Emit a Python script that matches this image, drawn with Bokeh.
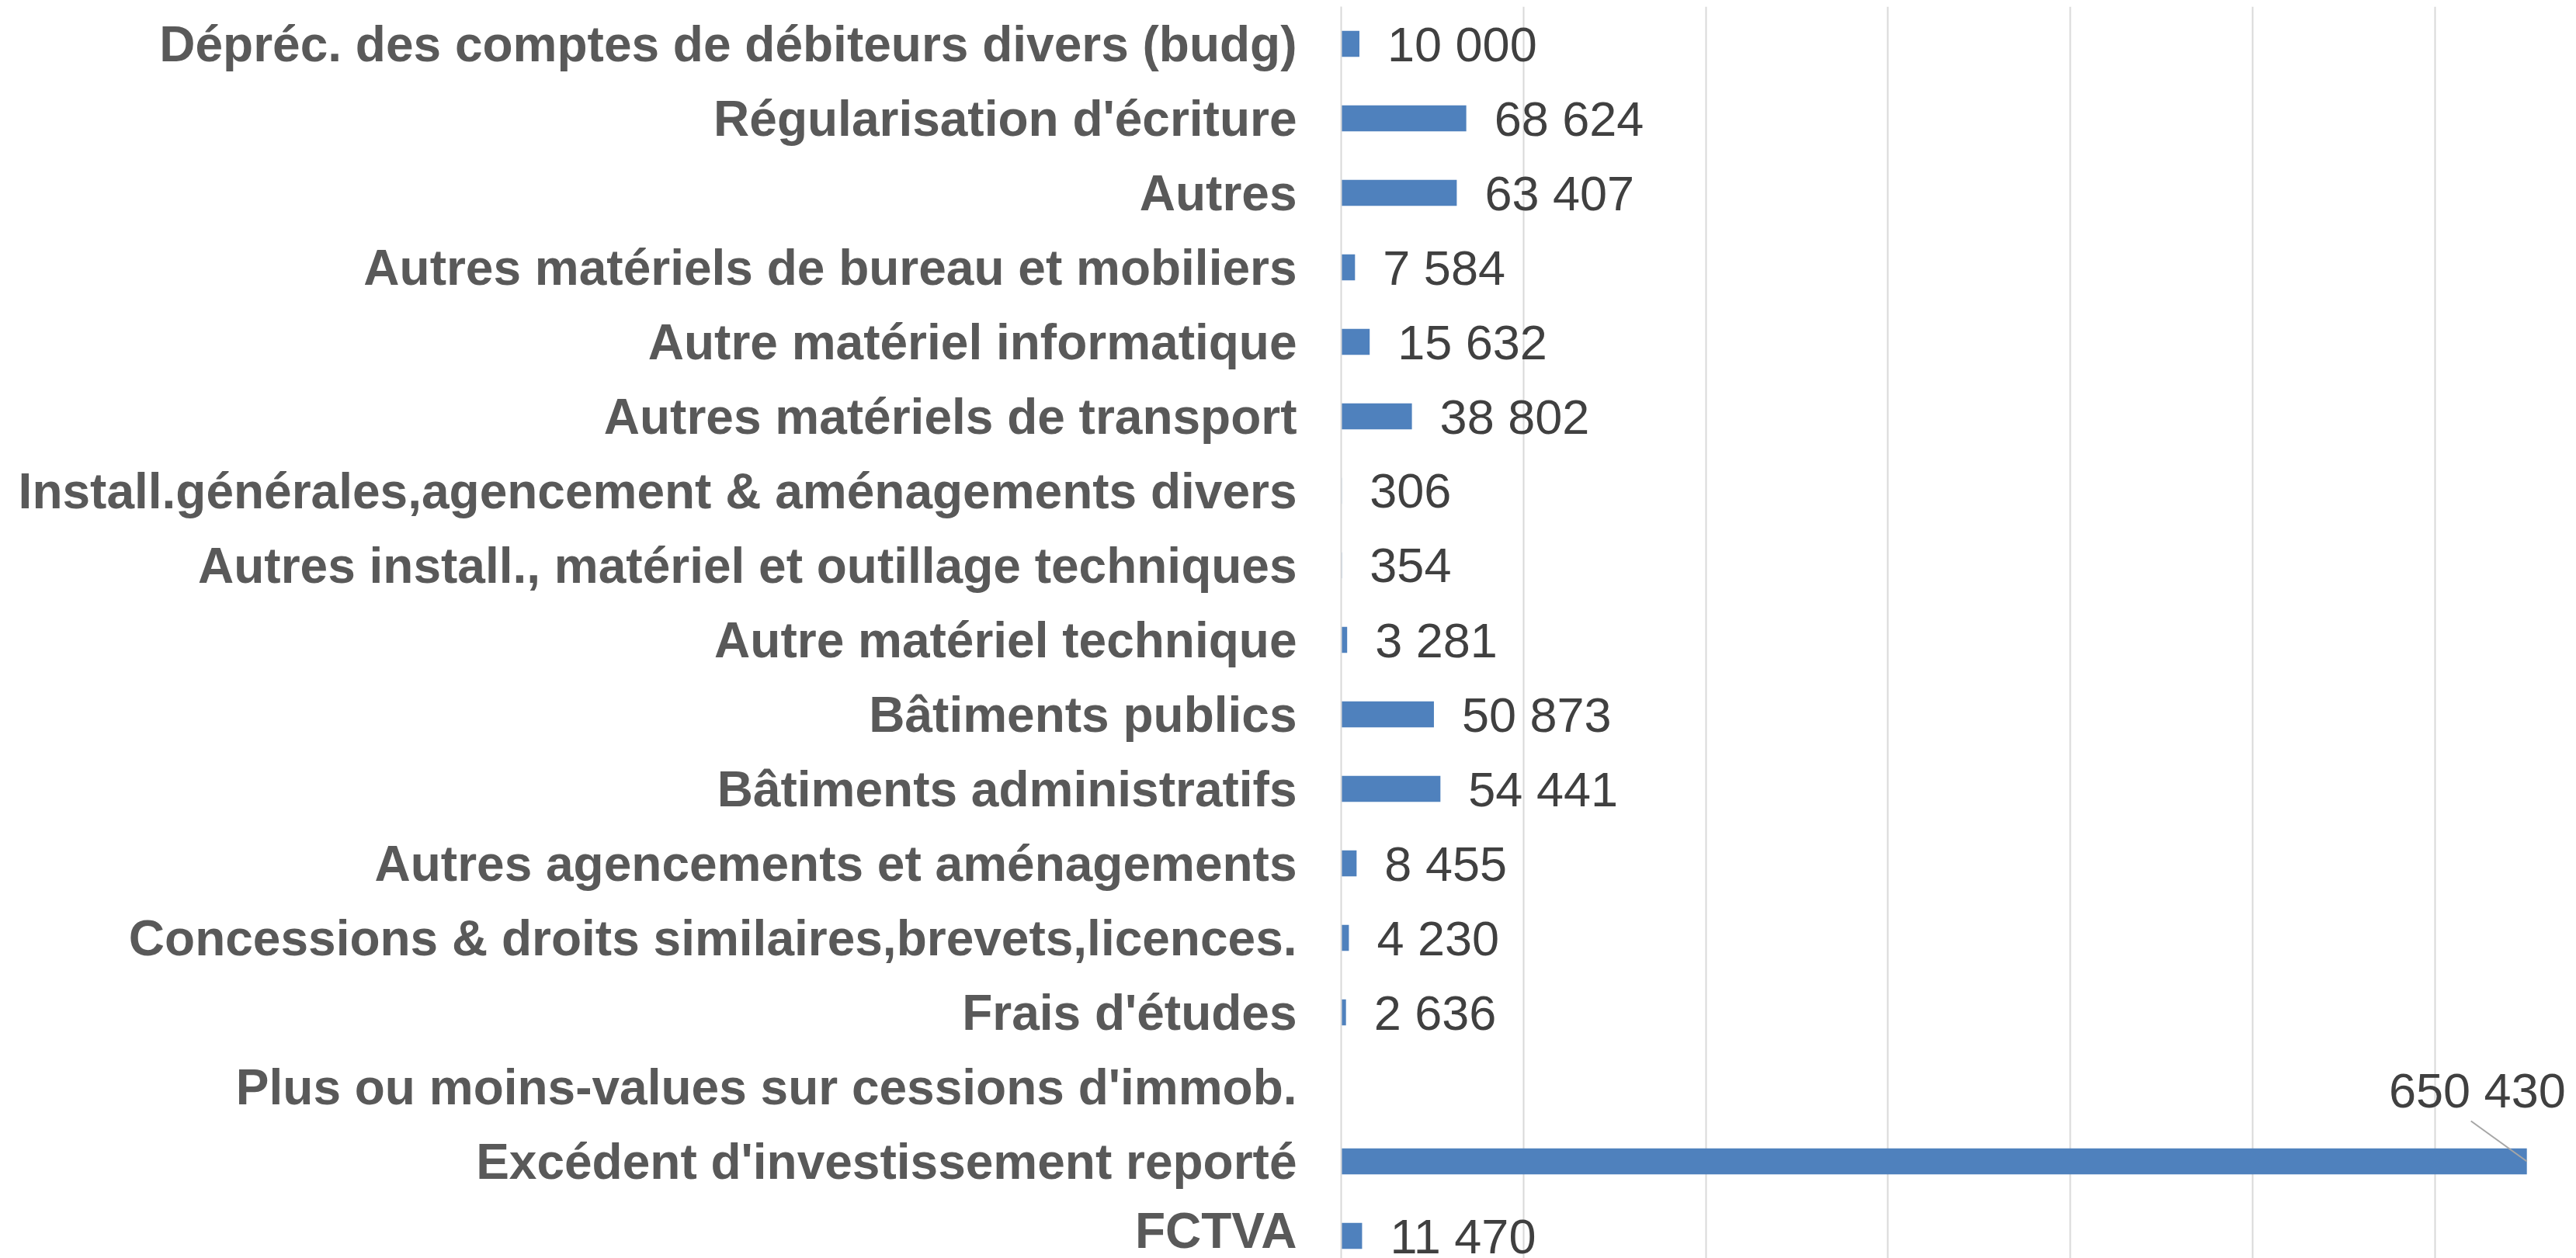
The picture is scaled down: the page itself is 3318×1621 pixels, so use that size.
from bokeh.plotting import figure
from bokeh.models import Range1d, LinearAxis, FixedTicker, SingleIntervalTicker, Grid, ColumnDataSource
from bokeh.core.properties import value
from bokeh.embed import file_html
from bokeh.resources import INLINE

categories = [
    "Dépréc. des comptes de débiteurs divers (budg)",
    "Régularisation d'écriture",
    "Autres",
    "Autres matériels de bureau et mobiliers",
    "Autre matériel informatique",
    "Autres matériels de transport",
    "Install.générales,agencement & aménagements divers",
    "Autres install., matériel et outillage techniques",
    "Autre matériel technique",
    "Bâtiments publics",
    "Bâtiments administratifs",
    "Autres agencements et aménagements",
    "Concessions & droits similaires,brevets,licences.",
    "Frais d'études",
    "Plus ou moins-values sur cessions d'immob.",
    "Excédent d'investissement reporté",
    "FCTVA",
]
values = [10000, 68624, 63407, 7584, 15632, 38802, 306, 354, 3281,
          50873, 54441, 8455, 4230, 2636, None, 650430, 11470]
callout_category = "Excédent d'investissement reporté"

FONT = "Liberation Sans"
BAR = "#4F81BD"
GRID = "#D9D9D9"

n = len(categories)
idx = list(range(n))

def fmt(v):
    return f"{v:,}".replace(",", " ")

W, H = 3318, 1621
LEFT, TOP = 1727, 8
px_per_unit = 96.0
px_per_100k = 234.8
frame_w = W - LEFT
frame_h = H - TOP
x_end = frame_w / px_per_100k * 100000
y_bottom = -0.5 + frame_h / px_per_unit

p = figure(width=W, height=H, output_backend="svg", toolbar_location=None,
           x_axis_type=None, y_axis_type=None,
           x_range=Range1d(0, x_end),
           y_range=Range1d(y_bottom, -0.5),
           min_border_left=LEFT, min_border_right=0, min_border_top=TOP, min_border_bottom=0)
p.outline_line_color = None
p.background_fill_color = "white"
p.border_fill_color = "white"

grid = Grid(dimension=0, ticker=SingleIntervalTicker(interval=100000),
            grid_line_color=GRID, grid_line_width=2)
p.add_layout(grid)

yaxis = LinearAxis(ticker=FixedTicker(ticks=idx),
                   major_label_overrides={i: c for i, c in zip(idx, categories)})
yaxis.axis_line_color = GRID
yaxis.axis_line_width = 2
yaxis.major_tick_line_color = None
yaxis.minor_tick_line_color = None
yaxis.major_label_standoff = 51
yaxis.major_label_text_font = FONT
yaxis.major_label_text_font_style = "bold"
yaxis.major_label_text_font_size = "64px"
yaxis.major_label_text_color = "#595959"
p.add_layout(yaxis, "left")

bar_y = [i for i, v in zip(idx, values) if v is not None]
bar_v = [v for v in values if v is not None]
src = ColumnDataSource(dict(y=bar_y, right=bar_v))
p.hbar(y="y", left=0, right="right", height=0.35, source=src,
       fill_color=BAR, line_color=None)

ci = categories.index(callout_category)
lab_y = [i for i, v in zip(idx, values) if v is not None and i != ci]
lab_v = [v for i, v in zip(idx, values) if v is not None and i != ci]
lsrc = ColumnDataSource(dict(x=lab_v, y=lab_y, t=[fmt(v) for v in lab_v]))
p.text(x="x", y="y", text="t", source=lsrc, x_offset=36,
       text_align="left", text_baseline="middle",
       text_font=value(FONT), text_font_size="63px", text_color="#404040")

cv = values[ci]
x_per_px = 100000 / px_per_100k
p.text(x=[cv], y=[ci], text=[fmt(cv)], x_offset=50, y_offset=-92,
       text_align="right", text_baseline="middle",
       text_font=value(FONT), text_font_size="63px", text_color="#404040")
p.segment(x0=[cv], y0=[ci], x1=[cv - 72 * x_per_px], y1=[ci - 52 / px_per_unit],
          line_color="#A6A6A6", line_width=2)

open("out.html", "w").write(file_html(p, INLINE))
